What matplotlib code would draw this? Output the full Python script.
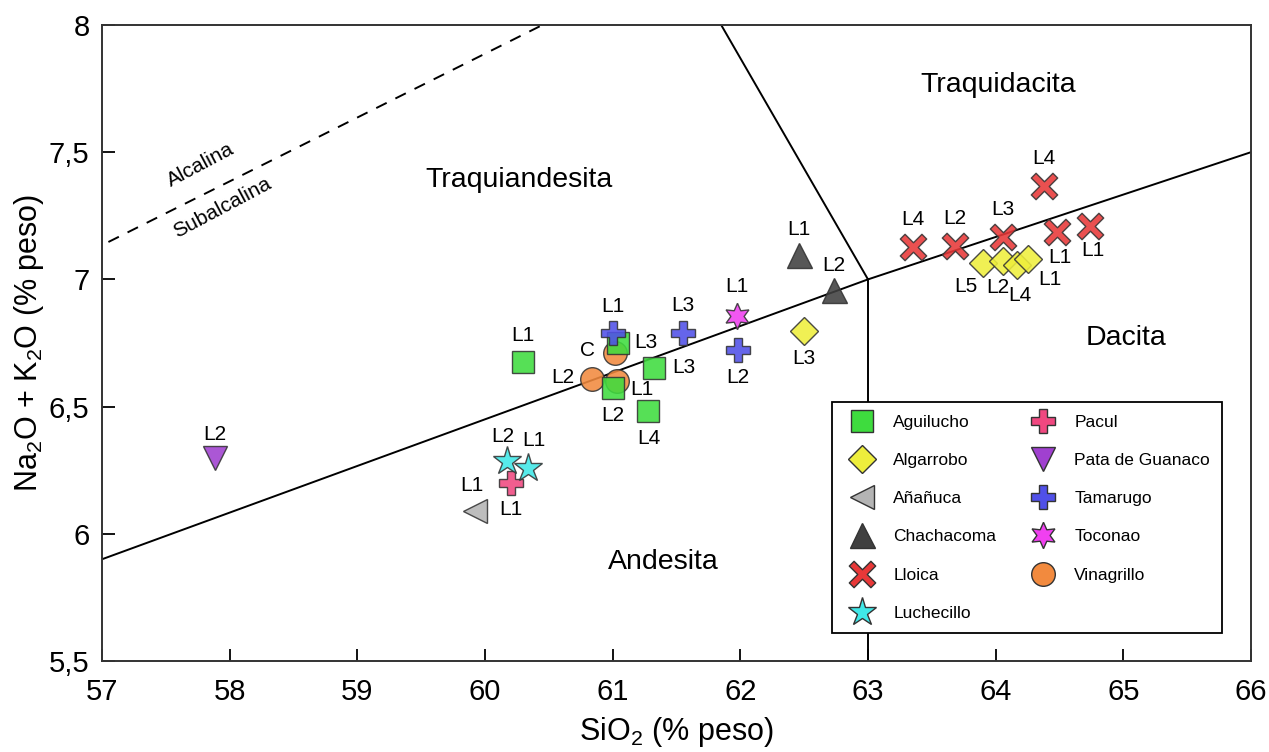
import numpy as np
import matplotlib.pyplot as plt
from matplotlib.lines import Line2D
from matplotlib.path import Path

plt.rcParams['font.family'] = ['Liberation Sans', 'DejaVu Sans']
plt.rcParams['mathtext.fontset'] = 'custom'
plt.rcParams['mathtext.rm'] = 'Liberation Sans'

# ---- data (SiO2, Na2O+K2O, label) ----
aguilucho_x = [60.30, 61.04, 61.32, 61.00, 61.28]
aguilucho_y = [6.675, 6.75, 6.652, 6.573, 6.483]
aguilucho_lab = ['L1', 'L3', 'L3', 'L2', 'L4']

algarrobo_x = [62.50, 63.90, 64.06, 64.17, 64.25]
algarrobo_y = [6.797, 7.064, 7.072, 7.057, 7.080]
algarrobo_lab = ['L3', 'L5', 'L2', 'L4', 'L1']

ananuca_x = [59.92]
ananuca_y = [6.09]
ananuca_lab = ['L1']

chachacoma_x = [62.46, 62.73]
chachacoma_y = [7.096, 6.958]
chachacoma_lab = ['L1', 'L2']

lloica_x = [63.35, 63.68, 64.06, 64.38, 64.48, 64.74]
lloica_y = [7.127, 7.131, 7.167, 7.367, 7.186, 7.21]
lloica_lab = ['L4', 'L2', 'L3', 'L4', 'L1', 'L1']

luchecillo_x = [60.17, 60.34]
luchecillo_y = [6.286, 6.259]
luchecillo_lab = ['L2', 'L1']

pacul_x = [60.20]
pacul_y = [6.20]
pacul_lab = ['L1']

pata_x = [57.885]
pata_y = [6.298]
pata_lab = ['L2']

tamarugo_x = [61.00, 61.55, 61.98]
tamarugo_y = [6.789, 6.79, 6.722]
tamarugo_lab = ['L1', 'L3', 'L2']

toconao_x = [61.97]
toconao_y = [6.856]
toconao_lab = ['L1']

vinagrillo_x = [61.02, 60.84, 61.03]
vinagrillo_y = [6.711, 6.608, 6.60]
vinagrillo_lab = ['C', 'L2', 'L1']

# label offsets in points (dx, dy)
aguilucho_off = [(0, 19), (20, 0), (22, 0), (0, -20), (0, -20)]
algarrobo_off = [(0, -20), (-12, -17), (-4, -19), (2, -22), (16, -15)]
ananuca_off = [(-2, 18)]
chachacoma_off = [(0, 18), (0, 18)]
lloica_off = [(0, 20), (0, 20), (0, 20), (0, 20), (2, -18), (2, -18)]
luchecillo_off = [(-3, 18), (4, 20)]
pacul_off = [(0, -19)]
pata_off = [(0, 17)]
tamarugo_off = [(0, 19), (0, 20), (0, -20)]
toconao_off = [(0, 21)]
vinagrillo_off = [(-20, 2), (-21, 1), (18, -6)]

# thin diagonal cross marker (like the reference's "X")
t = 0.22
plus = np.array([(t, 1), (t, t), (1, t), (1, -t), (t, -t), (t, -1), (-t, -1),
                 (-t, -t), (-1, -t), (-1, t), (-t, t), (-t, 1), (t, 1)])
c45 = np.cos(np.pi / 4)
rot = np.array([[c45, -c45], [c45, c45]])
thin_x = Path(plus @ rot.T, closed=True)

fig = plt.figure(figsize=(12.69, 7.52), dpi=100)
ax = fig.add_axes([0.0804, 0.121, 0.9054, 0.8458])

# ---- TAS field boundaries ----
ax.plot([57, 63], [5.9, 7.0], color='black', lw=1.4, zorder=1)
ax.plot([63, 66], [7.0, 7.5], color='black', lw=1.4, zorder=1)
ax.plot([63, 63], [5.5, 7.0], color='black', lw=1.4, zorder=1)
ax.plot([63, 61.85], [7.0, 8.0], color='black', lw=1.4, zorder=1)
ax.plot([57.05, 60.45], [7.147, 8.0], color='black', lw=1.4,
        dashes=(6, 5), zorder=1)

ax.text(57.77, 7.45, 'Alcalina', rotation=28, fontsize=15,
        ha='center', va='center')
ax.text(57.94, 7.28, 'Subalcalina', rotation=28, fontsize=15,
        ha='center', va='center')
ax.text(60.27, 7.39, 'Traquiandesita', fontsize=20.5, ha='center', va='center')
ax.text(64.02, 7.765, 'Traquidacita', fontsize=20.5, ha='center', va='center')
ax.text(65.02, 6.77, 'Dacita', fontsize=20.5, ha='center', va='center')
ax.text(61.4, 5.89, 'Andesita', fontsize=20.5, ha='center', va='center')

edge = '#333333'
groups = [
    ('Vinagrillo', vinagrillo_x, vinagrillo_y, vinagrillo_lab, vinagrillo_off, 'o', '#f28a3e', 17, 3),
    ('Aguilucho', aguilucho_x, aguilucho_y, aguilucho_lab, aguilucho_off, 's', '#3edc3e', 16, 4),
    ('Algarrobo', algarrobo_x, algarrobo_y, algarrobo_lab, algarrobo_off, 'D', '#eeee3c', 14, 4),
    ('Añañuca', ananuca_x, ananuca_y, ananuca_lab, ananuca_off, '<', '#b4b4b4', 17, 4),
    ('Chachacoma', chachacoma_x, chachacoma_y, chachacoma_lab, chachacoma_off, '^', '#404040', 18, 4),
    ('Lloica', lloica_x, lloica_y, lloica_lab, lloica_off, thin_x, '#e83838', 19, 5),
    ('Luchecillo', luchecillo_x, luchecillo_y, luchecillo_lab, luchecillo_off, '*', '#40e8e8', 21, 5),
    ('Pacul', pacul_x, pacul_y, pacul_lab, pacul_off, 'P', '#f04880', 17, 4),
    ('Pata de Guanaco', pata_x, pata_y, pata_lab, pata_off, 'v', '#a040d0', 17, 4),
    ('Tamarugo', tamarugo_x, tamarugo_y, tamarugo_lab, tamarugo_off, 'P', '#5050e8', 17, 6),
    ('Toconao', toconao_x, toconao_y, toconao_lab, toconao_off, (6, 1, 0), '#f040f0', 19, 5),
]

handles = {}
for name, xs, ys, labs, offs, mk, col, ms, zo in groups:
    ax.plot(xs, ys, linestyle='none', marker=mk, markersize=ms,
            markerfacecolor=col, markeredgecolor=edge, markeredgewidth=1.0,
            alpha=0.88, zorder=zo)
    for x, y, lab, (dx, dy) in zip(xs, ys, labs, offs):
        ax.annotate(lab, (x, y), xytext=(dx, dy), textcoords='offset points',
                    ha='center', va='center', fontsize=15, zorder=7)
    handles[name] = Line2D([], [], linestyle='none', marker=mk, markersize=ms,
                           markerfacecolor=col, markeredgecolor=edge,
                           markeredgewidth=1.0)

order = ['Aguilucho', 'Algarrobo', 'Añañuca', 'Chachacoma', 'Lloica',
         'Luchecillo', 'Pacul', 'Pata de Guanaco', 'Tamarugo', 'Toconao',
         'Vinagrillo']
leg = ax.legend([handles[n] for n in order], order, ncol=2, fontsize=12.5,
                loc='lower right', bbox_to_anchor=(0.975, 0.044),
                frameon=True, fancybox=False, edgecolor='black',
                framealpha=1, borderpad=0.7, labelspacing=1.33,
                handletextpad=0.8, columnspacing=1.7, borderaxespad=0)
leg.get_frame().set_linewidth(1.3)
leg.set_zorder(10)

ax.set_xlim(57, 66)
ax.set_ylim(5.5, 8)
ax.set_xticks(np.arange(57, 67, 1))
ax.set_yticks([5.5, 6, 6.5, 7, 7.5, 8])
ax.set_yticklabels(['5,5', '6', '6,5', '7', '7,5', '8'])
ax.tick_params(direction='in', length=9, width=1.3, labelsize=21)
ax.tick_params(axis='x', pad=12)
ax.tick_params(axis='y', pad=9)
for s in ax.spines.values():
    s.set_linewidth(1.4)
    s.set_color('#333333')

ax.set_xlabel('SiO$_2$ (% peso)', fontsize=22, labelpad=7)
ax.set_ylabel('Na$_2$O + K$_2$O (% peso)', fontsize=22, labelpad=2)

fig.savefig('out.png', dpi=100)
